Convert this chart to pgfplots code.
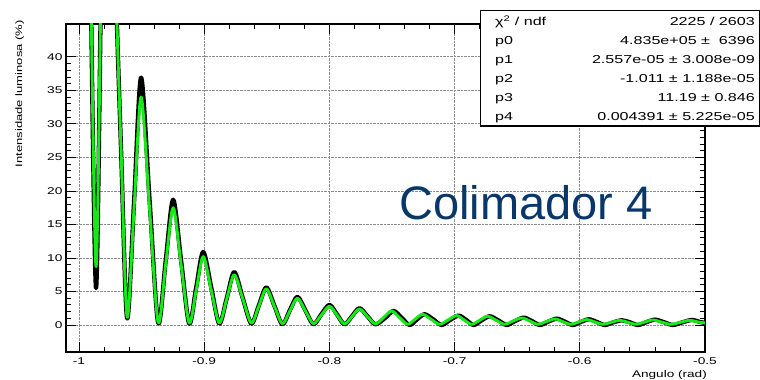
\documentclass[border=0pt]{standalone}
\usepackage{pgfplots}
\pgfplotsset{compat=1.18}
\usepackage{fontspec}
\setmainfont{Liberation Sans}
\newfontfamily\rootfont{Liberation Sans}[FakeStretch=1.4]
\newfontfamily\colfont{Liberation Sans}
\definecolor{fitgreen}{RGB}{20,235,20}
\definecolor{colblue}{RGB}{10,55,105}
\begin{document}
\begin{tikzpicture}
\path[use as bounding box] (0,0) rectangle (760pt,380pt);
\begin{axis}[
  at={(66pt,28pt)}, anchor=south west,
  scale only axis, width=639pt, height=328pt,
  xmin=-1.0104, xmax=-0.5, ymin=-4.03, ymax=44.9,
  xtick={-1,-0.9,-0.8,-0.7,-0.6,-0.5},
  xticklabels={-1,-0.9,-0.8,-0.7,-0.6,-0.5},
  ytick={0,5,10,15,20,25,30,35,40},
  minor x tick num=4, minor y tick num=4,
  tick align=inside, major tick length=10pt, minor tick length=5pt,
  tick style={black, line width=0.8pt},
  axis line style={line width=1.3pt},
  grid=major, major grid style={densely dotted, gray!90, line width=0.8pt},
  /pgf/number format/assume math mode=true,
  ticklabel style={font=\rootfont\fontsize{9.8}{11}\selectfont},
  xticklabel style={yshift=-2pt},
  clip=true,
]
\addplot[black, line width=4.3pt, smooth, tension=0.5, line join=round] coordinates {
(-0.9912,60) (-0.9864,5.5) (-0.9816,60) (-0.9760,100) (-0.9712,55) (-0.9664,26)
(-0.9616,1.0) (-0.9560,18.5) (-0.9504,36.9) (-0.9436,18.5) (-0.9368,0.3)
(-0.9308,9.5) (-0.9248,18.7) (-0.9184,9.5) (-0.9120,0.2)
(-0.9064,5.6) (-0.9008,10.9) (-0.8944,5.6) (-0.8880,0.2)
(-0.8820,4.0) (-0.8760,7.9) (-0.8692,4.0) (-0.8624,0.2)
(-0.8564,2.9) (-0.8504,5.6) (-0.8440,2.9) (-0.8376,0.1)
(-0.8316,2.2) (-0.8256,4.2) (-0.8192,2.2) (-0.8128,0.1)
(-0.8064,1.6) (-0.8000,3.0) (-0.7940,1.6) (-0.7880,0.1)
(-0.7820,1.3) (-0.7760,2.5) (-0.7696,1.3) (-0.7632,0.1)
(-0.7552,1.1) (-0.7488,2.1) (-0.7424,1.1) (-0.7360,0.0)
(-0.7300,0.85) (-0.7240,1.6) (-0.7172,0.85) (-0.7104,0.0)
(-0.7036,0.75) (-0.6968,1.4) (-0.6908,0.75) (-0.6848,0.0)
(-0.6784,0.7) (-0.6720,1.3) (-0.6652,0.7) (-0.6584,0.0)
(-0.6516,0.6) (-0.6448,1.1) (-0.6384,0.6) (-0.6320,0.0)
(-0.6252,0.5) (-0.6184,0.95) (-0.6120,0.5) (-0.6056,0.0)
(-0.5992,0.45) (-0.5928,0.85) (-0.5864,0.45) (-0.5800,0.0)
(-0.5732,0.4) (-0.5664,0.7) (-0.5600,0.4) (-0.5536,0.0)
(-0.5468,0.42) (-0.5400,0.8) (-0.5328,0.42) (-0.5256,0.0)
(-0.5180,0.4) (-0.5104,0.75) (-0.5040,0.45) (-0.5000,0.3)
};
\addplot[fitgreen, line width=2.9pt, smooth, tension=0.5, line join=round] coordinates {
(-0.9912,60) (-0.9864,8.7) (-0.9816,60) (-0.9760,100) (-0.9712,55) (-0.9664,26)
(-0.9616,1.2) (-0.9560,17.6) (-0.9504,34.0) (-0.9436,17.2) (-0.9368,0.4)
(-0.9308,9.0) (-0.9248,17.5) (-0.9184,8.9) (-0.9120,0.3)
(-0.9064,5.2) (-0.9008,10.2) (-0.8944,5.2) (-0.8880,0.3)
(-0.8820,3.9) (-0.8760,7.5) (-0.8692,3.9) (-0.8624,0.3)
(-0.8564,2.8) (-0.8504,5.4) (-0.8440,2.8) (-0.8376,0.2)
(-0.8316,2.1) (-0.8256,4.0) (-0.8192,2.1) (-0.8128,0.2)
(-0.8064,1.5) (-0.8000,2.8) (-0.7940,1.5) (-0.7880,0.15)
(-0.7820,1.25) (-0.7760,2.4) (-0.7696,1.25) (-0.7632,0.15)
(-0.7568,1.1) (-0.7504,2.1) (-0.7440,1.1) (-0.7376,0.1)
(-0.7316,0.85) (-0.7256,1.6) (-0.7188,0.85) (-0.7120,0.1)
(-0.7052,0.75) (-0.6984,1.4) (-0.6924,0.75) (-0.6864,0.1)
(-0.6800,0.7) (-0.6736,1.3) (-0.6668,0.7) (-0.6600,0.1)
(-0.6532,0.6) (-0.6464,1.05) (-0.6400,0.6) (-0.6336,0.1)
(-0.6268,0.5) (-0.6200,0.9) (-0.6136,0.5) (-0.6072,0.1)
(-0.6008,0.45) (-0.5944,0.8) (-0.5880,0.45) (-0.5816,0.1)
(-0.5748,0.4) (-0.5680,0.7) (-0.5616,0.4) (-0.5552,0.1)
(-0.5484,0.42) (-0.5416,0.75) (-0.5344,0.42) (-0.5272,0.1)
(-0.5196,0.4) (-0.5120,0.7) (-0.5056,0.45) (-0.5000,0.3)
};
\end{axis}
% axis titles
\node[rotate=90, anchor=base east, font=\rootfont\fontsize{9.3}{11}\selectfont, inner sep=0pt] at (22pt,360pt) {Intensidade luminosa (\%)};
\node[anchor=base east, font=\rootfont\fontsize{9.7}{11}\selectfont, inner sep=0pt] at (707pt,2.5pt) {Angulo (rad)};
% stats box
\draw[fill=white, line width=0.8pt] (480pt,254pt) rectangle (759pt,370pt);
\draw[line width=2pt] (481pt,254pt) -- (759pt,254pt);
\begin{scope}[every node/.style={inner sep=0pt, font=\rootfont\fontsize{11.5}{13}\selectfont}]
\node[anchor=base west] at (495pt,354.1pt) {χ\textsuperscript{2} / ndf};
\node[anchor=base west] at (495pt,335.2pt) {p0};
\node[anchor=base west] at (495pt,316.3pt) {p1};
\node[anchor=base west] at (495pt,297.4pt) {p2};
\node[anchor=base west] at (495pt,278.5pt) {p3};
\node[anchor=base west] at (495pt,259.6pt) {p4};
\node[anchor=base east] at (755pt,354.1pt) {2225 / 2603};
\node[anchor=base east] at (755pt,335.2pt) {4.835e+05 ± \ 6396};
\node[anchor=base east] at (755pt,316.3pt) {2.557e-05 ± 3.008e-09};
\node[anchor=base east] at (755pt,297.4pt) {-1.011 ± 1.188e-05};
\node[anchor=base east] at (755pt,278.5pt) {11.19 ± 0.846};
\node[anchor=base east] at (755pt,259.6pt) {0.004391 ± 5.225e-05};
\end{scope}
\node[anchor=base west, text=colblue, font=\colfont\fontsize{47}{50}\selectfont, inner sep=0pt] at (399pt,160pt) {Colimador 4};
\end{tikzpicture}
\end{document}
